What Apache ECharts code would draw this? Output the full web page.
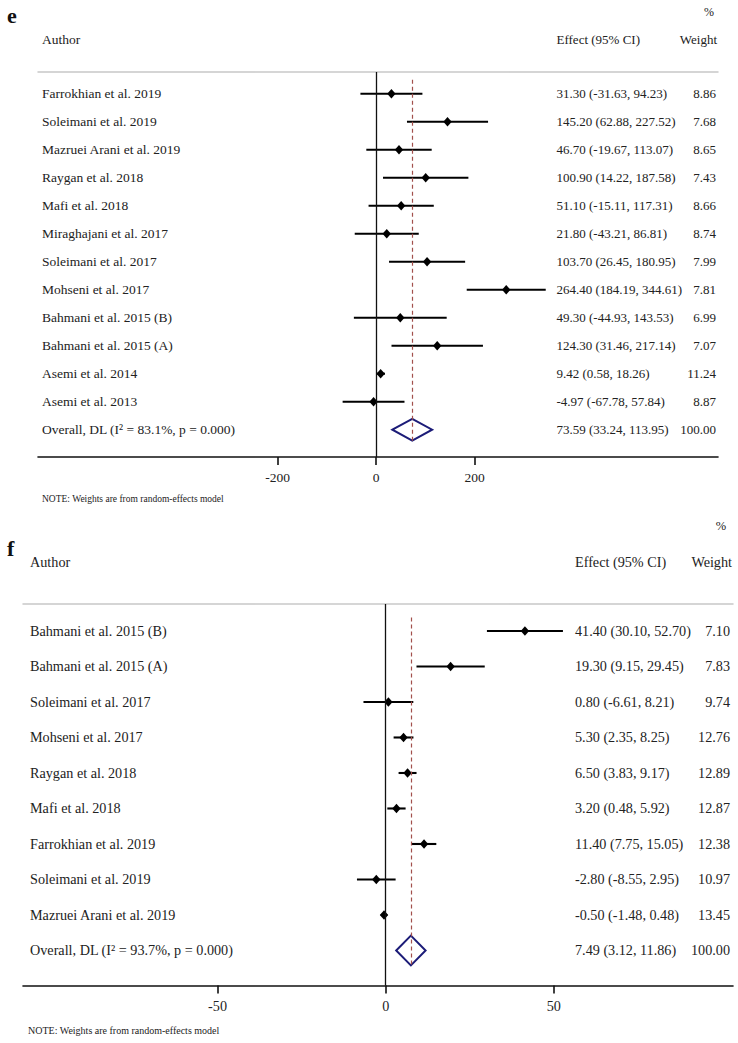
<!DOCTYPE html>
<html>
<head>
<meta charset="utf-8">
<script src="https://cdn.jsdelivr.net/npm/echarts@6/dist/echarts.min.js"></script>
<style>
html,body{margin:0;padding:0;background:#fff;}
#c{width:738px;height:1043px;}
</style>
</head>
<body>
<div id="c"></div>
<script>
// ---------- Panel e data ----------
const authorsE = ["Farrokhian et al. 2019","Soleimani et al. 2019","Mazruei Arani et al. 2019","Raygan et al. 2018","Mafi et al. 2018","Miraghajani et al. 2017","Soleimani et al. 2017","Mohseni et al. 2017","Bahmani et al. 2015 (B)","Bahmani et al. 2015 (A)","Asemi et al. 2014","Asemi et al. 2013"];
const effE = [31.30,145.20,46.70,100.90,51.10,21.80,103.70,264.40,49.30,124.30,9.42,-4.97];
const lowE = [-31.63,62.88,-19.67,14.22,-15.11,-43.21,26.45,184.19,-44.93,31.46,0.58,-67.78];
const highE = [94.23,227.52,113.07,187.58,117.31,86.81,180.95,344.61,143.53,217.14,18.26,57.84];
const weightE = [8.86,7.68,8.65,7.43,8.66,8.74,7.99,7.81,6.99,7.07,11.24,8.87];
const overallE = [73.59,33.24,113.95,100.00];
const overallLabelE = "Overall, DL (I² = 83.1%, p = 0.000)";
const ticksE = [-200,0,200];

// ---------- Panel f data ----------
const authorsF = ["Bahmani et al. 2015 (B)","Bahmani et al. 2015 (A)","Soleimani et al. 2017","Mohseni et al. 2017","Raygan et al. 2018","Mafi et al. 2018","Farrokhian et al. 2019","Soleimani et al. 2019","Mazruei Arani et al. 2019"];
const effF = [41.40,19.30,0.80,5.30,6.50,3.20,11.40,-2.80,-0.50];
const lowF = [30.10,9.15,-6.61,2.35,3.83,0.48,7.75,-8.55,-1.48];
const highF = [52.70,29.45,8.21,8.25,9.17,5.92,15.05,2.95,0.48];
const weightF = [7.10,7.83,9.74,12.76,12.89,12.87,12.38,10.97,13.45];
const overallF = [7.49,3.12,11.86,100.00];
const overallLabelF = "Overall, DL (I² = 93.7%, p = 0.000)";
const ticksF = [-50,0,50];

const SERIF = '"Liberation Serif", "DejaVu Serif", serif';
const TXT = '#222';
const fmt = v => v.toFixed(2);
const effText = (e,l,h) => fmt(e) + ' (' + fmt(l) + ', ' + fmt(h) + ')';

function studyRows(a, e, l, h, w){
  return a.map((name,i)=>[e[i], i, l[i], h[i], w[i]]);
}

function makeStudyRender(cfg){
  return function(params, api){
    const y = api.value(1);
    const pE = api.coord([api.value(0), y]);
    const pL = api.coord([api.value(2), y]);
    const pH = api.coord([api.value(3), y]);
    const e = api.value(0), l = api.value(2), h = api.value(3), w = api.value(4);
    const name = cfg.names[params.dataIndex];
    const nfont = cfg.nameSize + 'px ' + SERIF;
    const vfont = cfg.valSize + 'px ' + SERIF;
    const dw = 4.2, dh = 4.7;
    return {type:'group', children:[
      {type:'line', shape:{x1:pL[0], y1:pL[1], x2:pH[0], y2:pH[1]}, style:{stroke:'#000', lineWidth:2.1}},
      {type:'polygon', shape:{points:[[pE[0]-dw,pE[1]],[pE[0],pE[1]-dh],[pE[0]+dw,pE[1]],[pE[0],pE[1]+dh]]}, style:{fill:'#000'}},
      {type:'text', style:{text:name, x:cfg.authorX, y:pE[1], font:nfont, fill:TXT, verticalAlign:'middle', align:'left'}},
      {type:'text', style:{text:effText(e,l,h), x:cfg.effX, y:pE[1], font:vfont, fill:TXT, verticalAlign:'middle', align:'left'}},
      {type:'text', style:{text:w.toFixed(2), x:cfg.wX, y:pE[1], font:vfont, fill:TXT, verticalAlign:'middle', align:'right'}}
    ]};
  };
}

function makeOverallRender(cfg){
  return function(params, api){
    const y = api.value(1);
    const e = api.value(0), l = api.value(2), h = api.value(3), w = api.value(4);
    const pL = api.coord([l, y]);
    const pH = api.coord([h, y]);
    const pT = api.coord([e, y - cfg.half]);
    const pB = api.coord([e, y + cfg.half]);
    const pE = api.coord([e, y]);
    const nfont = cfg.nameSize + 'px ' + SERIF;
    const vfont = cfg.valSize + 'px ' + SERIF;
    return {type:'group', children:[
      {type:'polygon', shape:{points:[pL,pT,pH,pB]}, style:{fill:'none', stroke:'#1c1c78', lineWidth:2}},
      {type:'text', style:{text:cfg.label, x:cfg.authorX, y:pE[1], font:nfont, fill:TXT, verticalAlign:'middle', align:'left'}},
      {type:'text', style:{text:effText(e,l,h), x:cfg.effX, y:pE[1], font:vfont, fill:TXT, verticalAlign:'middle', align:'left'}},
      {type:'text', style:{text:w.toFixed(2), x:cfg.wX, y:pE[1], font:vfont, fill:TXT, verticalAlign:'middle', align:'right'}}
    ]};
  };
}

function bottomAxis(grid, min, max, ticks, fs){
  return {type:'value', gridIndex:grid, position:'bottom', min:min, max:max,
    axisLine:{show:true, onZero:false, lineStyle:{color:'#111', width:1.6}},
    axisTick:{show:true, customValues:ticks, length:8, lineStyle:{color:'#111', width:1.6}},
    axisLabel:{show:true, customValues:ticks, margin:13, fontFamily:SERIF, fontSize:fs, color:TXT},
    splitLine:{show:false}};
}
function topAxis(grid, min, max){
  return {type:'value', gridIndex:grid, position:'top', min:min, max:max,
    axisLine:{show:true, onZero:false, lineStyle:{color:'#c8c8c8', width:1.5}},
    axisTick:{show:false}, axisLabel:{show:false}, splitLine:{show:false}};
}

const chart = echarts.init(document.getElementById('c'), null, {renderer:'svg', width:738, height:1043});

const nE = authorsE.length, nF = authorsF.length;
const cfgE = {names:authorsE, authorX:42, effX:556.5, wX:716, nameSize:13.5, valSize:13};
const cfgF = {names:authorsF, authorX:30, effX:575, wX:730, nameSize:14.2, valSize:14.2};

chart.setOption({
  animation:false,
  backgroundColor:'#fff',
  grid:[
    {left:38, right:20, top:72, height:385},
    {left:23, right:5, top:604, height:381.5}
  ],
  xAxis:[
    bottomAxis(0, -686.3, 694.4, ticksE, 13.5),
    topAxis(0, -686.3, 694.4),
    bottomAxis(1, -107.85, 103.27, ticksF, 14.2),
    topAxis(1, -107.85, 103.27)
  ],
  yAxis:[
    {type:'value', gridIndex:0, min:-0.775, max:12.975, inverse:true, show:false},
    {type:'value', gridIndex:1, min:-0.76, max:9.986, inverse:true, show:false}
  ],
  graphic:[
    {type:'text', x:7, y:15, style:{text:'e', font:'bold 22px '+SERIF, fill:'#111', verticalAlign:'middle'}},
    {type:'text', x:709, y:12, style:{text:'%', font:'12px '+SERIF, fill:TXT, align:'center', verticalAlign:'middle'}},
    {type:'text', x:42, y:39, style:{text:'Author', font:'13.5px '+SERIF, fill:TXT, verticalAlign:'middle'}},
    {type:'text', x:556.5, y:39, style:{text:'Effect (95% CI)', font:'13px '+SERIF, fill:TXT, verticalAlign:'middle'}},
    {type:'text', x:717, y:39, style:{text:'Weight', font:'13px '+SERIF, fill:TXT, align:'right', verticalAlign:'middle'}},
    {type:'text', x:42, y:499, style:{text:'NOTE: Weights are from random-effects model', font:'9.5px '+SERIF, fill:TXT, verticalAlign:'middle'}},

    {type:'text', x:7, y:548, style:{text:'f', font:'bold 22px '+SERIF, fill:'#111', verticalAlign:'middle'}},
    {type:'text', x:721, y:526, style:{text:'%', font:'12.5px '+SERIF, fill:TXT, align:'center', verticalAlign:'middle'}},
    {type:'text', x:30, y:562, style:{text:'Author', font:'14.2px '+SERIF, fill:TXT, verticalAlign:'middle'}},
    {type:'text', x:575, y:562, style:{text:'Effect (95% CI)', font:'14.2px '+SERIF, fill:TXT, verticalAlign:'middle'}},
    {type:'text', x:732, y:562, style:{text:'Weight', font:'14.2px '+SERIF, fill:TXT, align:'right', verticalAlign:'middle'}},
    {type:'text', x:28, y:1030, style:{text:'NOTE: Weights are from random-effects model', font:'10px '+SERIF, fill:TXT, verticalAlign:'middle'}}
  ],
  series:[
    {type:'custom', xAxisIndex:0, yAxisIndex:0, renderItem:makeStudyRender(cfgE),
     data:studyRows(authorsE,effE,lowE,highE,weightE), encode:{x:0,y:1}, silent:true},
    {type:'custom', xAxisIndex:0, yAxisIndex:0,
     renderItem:makeOverallRender({authorX:42, effX:556.5, wX:716, nameSize:13.5, valSize:13, half:0.39, label:overallLabelE}),
     data:[[overallE[0], nE, overallE[1], overallE[2], overallE[3]]], encode:{x:0,y:1}, silent:true,
     markLine:{silent:true, symbol:'none', label:{show:false},
       data:[
         {xAxis:0, lineStyle:{color:'#111', width:1.3, type:'solid'}},
         [{coord:[overallE[0], -0.5], lineStyle:{color:'#a2504c', width:1.2, type:[4,3]}}, {coord:[overallE[0], nE+0.45]}]
       ]}},
    {type:'custom', xAxisIndex:2, yAxisIndex:1, renderItem:makeStudyRender(cfgF),
     data:studyRows(authorsF,effF,lowF,highF,weightF), encode:{x:0,y:1}, silent:true},
    {type:'custom', xAxisIndex:2, yAxisIndex:1,
     renderItem:makeOverallRender({authorX:30, effX:575, wX:730, nameSize:14.2, valSize:14.2, half:0.42, label:overallLabelF}),
     data:[[overallF[0], nF, overallF[1], overallF[2], overallF[3]]], encode:{x:0,y:1}, silent:true,
     markLine:{silent:true, symbol:'none', label:{show:false},
       data:[
         {xAxis:0, lineStyle:{color:'#111', width:1.3, type:'solid'}},
         [{coord:[overallF[0], -0.38], lineStyle:{color:'#a2504c', width:1.2, type:[4,3]}}, {coord:[overallF[0], nF+0.46]}]
       ]}}
  ]
});
</script>
</body>
</html>
